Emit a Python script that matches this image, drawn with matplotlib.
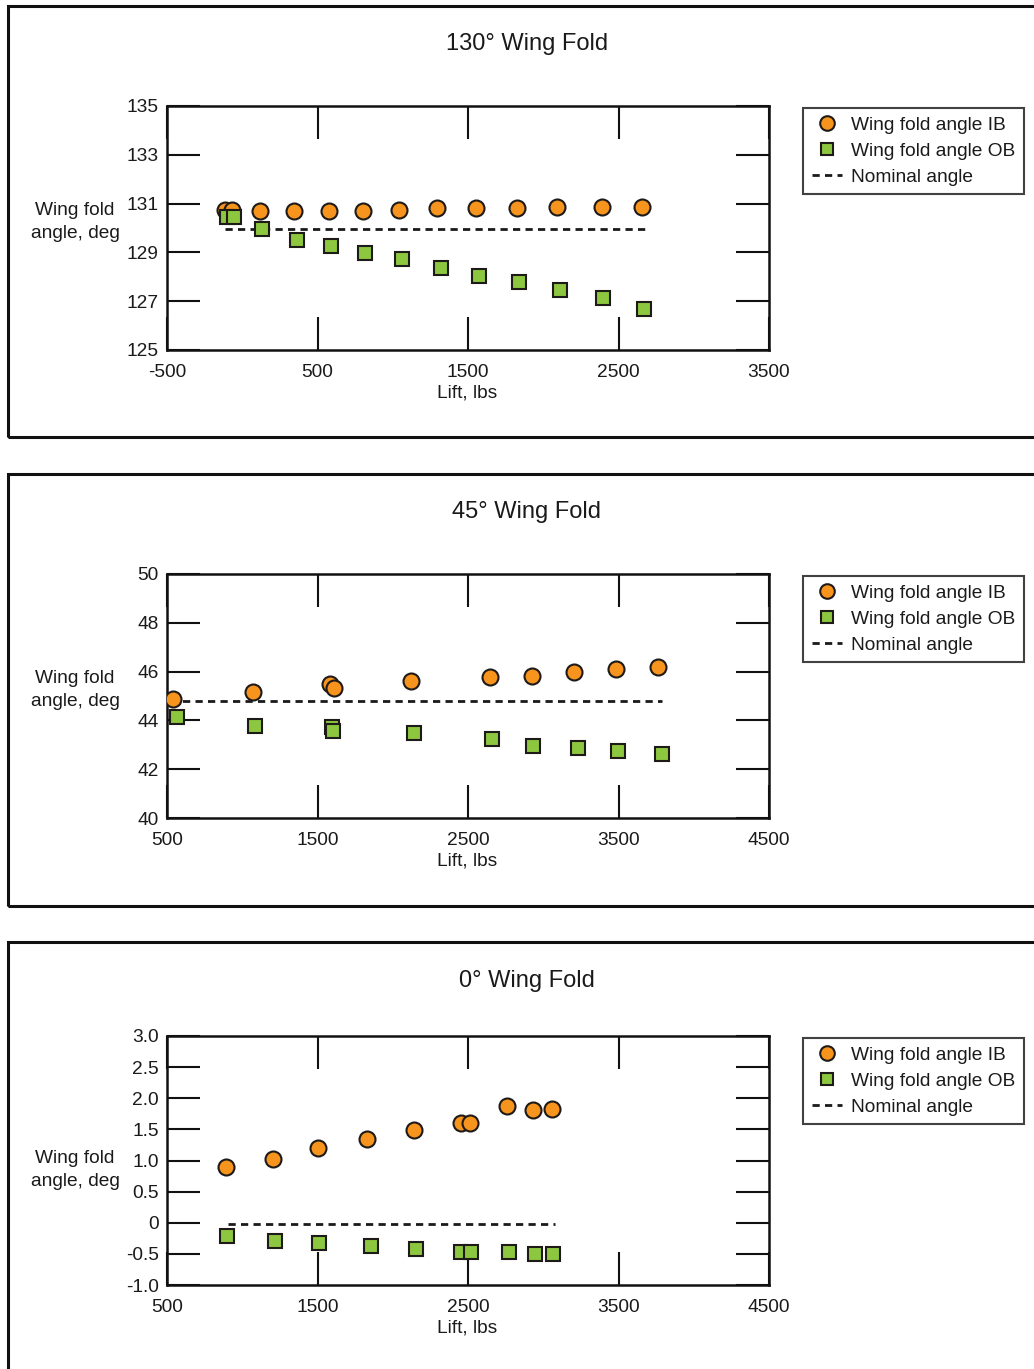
import matplotlib
matplotlib.use("Agg")
import matplotlib.pyplot as plt
from matplotlib.patches import Rectangle
from matplotlib.lines import Line2D

plt.rcParams['font.family'] = ['Liberation Sans', 'DejaVu Sans']

# ---- 130 deg wing fold ----
p1_title = "130° Wing Fold"
p1_ib_lift = [-115, -70, 118, 346, 576, 800, 1043, 1296, 1551, 1828, 2089, 2388, 2658]
p1_ib_angle = [130.74, 130.72, 130.70, 130.70, 130.70, 130.70, 130.74, 130.83, 130.83, 130.83, 130.87, 130.87, 130.87]
p1_ob_lift = [-103, -55, 133, 362, 588, 818, 1063, 1319, 1575, 1839, 2111, 2395, 2669]
p1_ob_angle = [130.44, 130.44, 129.95, 129.51, 129.26, 128.96, 128.72, 128.37, 128.03, 127.80, 127.46, 127.13, 126.67]
p1_nom_lift = [-115, 2685]
p1_nom_angle = [129.95, 129.95]
p1_xticks = [-500, 500, 1500, 2500, 3500]
p1_yticks = [125, 127, 129, 131, 133, 135]
p1_yticklabels = ["125", "127", "129", "131", "133", "135"]

# ---- 45 deg wing fold ----
p2_title = "45° Wing Fold"
p2_ib_lift = [542, 1069, 1583, 1610, 2121, 2646, 2923, 3206, 3483, 3765]
p2_ib_angle = [44.86, 45.15, 45.48, 45.34, 45.63, 45.79, 45.83, 45.97, 46.09, 46.20]
p2_ob_lift = [568, 1085, 1594, 1605, 2141, 2661, 2934, 3229, 3495, 3787]
p2_ob_angle = [44.15, 43.78, 43.72, 43.57, 43.47, 43.23, 42.96, 42.86, 42.75, 42.62]
p2_nom_lift = [520, 3789]
p2_nom_angle = [44.81, 44.81]
p2_xticks = [500, 1500, 2500, 3500, 4500]
p2_yticks = [40, 42, 44, 46, 48, 50]
p2_yticklabels = ["40", "42", "44", "46", "48", "50"]

# ---- 0 deg wing fold ----
p3_title = "0° Wing Fold"
p3_ib_lift = [890, 1206, 1505, 1831, 2141, 2453, 2513, 2761, 2934, 3060]
p3_ib_angle = [0.90, 1.02, 1.20, 1.34, 1.49, 1.60, 1.61, 1.88, 1.81, 1.83]
p3_ob_lift = [897, 1218, 1512, 1855, 2153, 2453, 2518, 2772, 2945, 3067]
p3_ob_angle = [-0.21, -0.30, -0.33, -0.37, -0.42, -0.465, -0.465, -0.465, -0.50, -0.50]
p3_nom_lift = [905, 3078]
p3_nom_angle = [-0.02, -0.02]
p3_xticks = [500, 1500, 2500, 3500, 4500]
p3_yticks = [-1.0, -0.5, 0, 0.5, 1.0, 1.5, 2.0, 2.5, 3.0]
p3_yticklabels = ["-1.0", "-0.5", "0", "0.5", "1.0", "1.5", "2.0", "2.5", "3.0"]

IB_COLOR = "#F7941D"
OB_COLOR = "#8DC63F"
EDGE = "#1E1A17"
TEXT = "#1a1a1a"
FS = 13.75

W, H = 1034, 1369
fig = plt.figure(figsize=(W / 100, H / 100), dpi=100)


def fx(px):
    return px / W


def fy(py):
    return 1 - py / H


panels = [
    dict(title=p1_title, ib=(p1_ib_lift, p1_ib_angle), ob=(p1_ob_lift, p1_ob_angle),
         nom=(p1_nom_lift, p1_nom_angle), xticks=p1_xticks, yticks=p1_yticks,
         yticklabels=p1_yticklabels, frame=(6, 437), axes_y=(106, 350),
         title_y=44, ylabel_y=222, legend_y=108),
    dict(title=p2_title, ib=(p2_ib_lift, p2_ib_angle), ob=(p2_ob_lift, p2_ob_angle),
         nom=(p2_nom_lift, p2_nom_angle), xticks=p2_xticks, yticks=p2_yticks,
         yticklabels=p2_yticklabels, frame=(474, 906), axes_y=(574, 818),
         title_y=512, ylabel_y=690, legend_y=576),
    dict(title=p3_title, ib=(p3_ib_lift, p3_ib_angle), ob=(p3_ob_lift, p3_ob_angle),
         nom=(p3_nom_lift, p3_nom_angle), xticks=p3_xticks, yticks=p3_yticks,
         yticklabels=p3_yticklabels, frame=(942, 1400), axes_y=(1036, 1285),
         title_y=981, ylabel_y=1170, legend_y=1038),
]

AX_L, AX_R = 167, 769

for p in panels:
    top, bot = p["frame"]
    fig.patches.append(Rectangle((fx(8), fy(bot)), fx(1060) - fx(8), fy(top) - fy(bot),
                                 transform=fig.transFigure, fill=False,
                                 edgecolor="#111111", linewidth=2.2, clip_on=False))

    at, ab = p["axes_y"]
    ax = fig.add_axes([fx(AX_L), fy(ab), fx(AX_R) - fx(AX_L), fy(at) - fy(ab)])

    ax.plot(p["nom"][0], p["nom"][1], color="#1a1a1a", linewidth=2.0,
            dashes=(2.6, 1.9), zorder=2)
    ax.plot(p["ib"][0], p["ib"][1], linestyle="none", marker="o", markersize=11.5,
            markerfacecolor=IB_COLOR, markeredgecolor=EDGE, markeredgewidth=1.5, zorder=3)
    ax.plot(p["ob"][0], p["ob"][1], linestyle="none", marker="s", markersize=10.5,
            markerfacecolor=OB_COLOR, markeredgecolor=EDGE, markeredgewidth=1.5, zorder=4)

    xt = p["xticks"]
    yt = p["yticks"]
    ax.set_xlim(xt[0], xt[-1])
    ax.set_ylim(yt[0], yt[-1])
    ax.set_xticks(xt)
    ax.set_xticklabels([str(v) for v in xt])
    ax.set_yticks(yt)
    ax.set_yticklabels(p["yticklabels"])
    ax.tick_params(direction="in", length=24, width=1.5, color="#111111",
                   top=True, right=True, labelsize=FS, labelcolor=TEXT)
    ax.tick_params(axis="y", pad=6)
    ax.tick_params(axis="x", pad=10)
    for s in ax.spines.values():
        s.set_linewidth(1.8)
        s.set_color("#111111")

    fig.text(fx(527), fy(p["title_y"]), p["title"], ha="center", va="center",
             fontsize=17, color=TEXT)
    fig.text(fx(467), fy(ab + 43), "Lift, lbs", ha="center", va="center",
             fontsize=FS, color=TEXT)
    fig.text(fx(75), fy(p["ylabel_y"]), "Wing fold\nangle, deg", ha="center", va="center",
             fontsize=FS, color=TEXT, linespacing=1.45)

    handles = [
        Line2D([], [], linestyle="none", marker="o", markersize=10.5,
               markerfacecolor=IB_COLOR, markeredgecolor=EDGE, markeredgewidth=1.5),
        Line2D([], [], linestyle="none", marker="s", markersize=9,
               markerfacecolor=OB_COLOR, markeredgecolor=EDGE, markeredgewidth=1.5),
        Line2D([], [], color="#1a1a1a", linewidth=2.0, dashes=(2.6, 1.9)),
    ]
    leg = ax.legend(handles, ["Wing fold angle IB", "Wing fold angle OB", "Nominal angle"],
                    loc="upper left", bbox_to_anchor=(fx(803), fy(p["legend_y"])),
                    bbox_transform=fig.transFigure, borderaxespad=0, fancybox=False,
                    frameon=True, edgecolor="#111111", fontsize=FS,
                    handlelength=1.6, handletextpad=0.45, labelspacing=0.45,
                    borderpad=0.45)
    leg.get_frame().set_linewidth(1.5)
    for t in leg.get_texts():
        t.set_color(TEXT)

fig.savefig("out.png", dpi=100, facecolor="white")
